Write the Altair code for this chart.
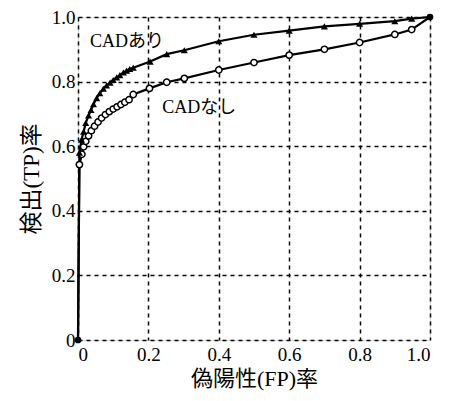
import altair as alt
import pandas as pd

# CADあり (with CAD) - filled triangles
x_with = [0.0, 0.004, 0.010, 0.016, 0.022, 0.030, 0.037, 0.044, 0.053, 0.062, 0.072,
          0.081, 0.091, 0.100, 0.110, 0.119, 0.129, 0.138, 0.147, 0.157,
          0.205, 0.252, 0.302, 0.40, 0.50, 0.60, 0.70, 0.80, 0.90, 0.948, 1.0]
y_with = [0.0, 0.58, 0.62, 0.645, 0.672, 0.695, 0.712, 0.730, 0.749, 0.764, 0.778,
          0.788, 0.797, 0.805, 0.813, 0.820, 0.828, 0.834, 0.839, 0.843,
          0.862, 0.885, 0.897, 0.925, 0.945, 0.958, 0.971, 0.979, 0.987, 0.995, 1.0]

# CADなし (without CAD) - open circles
x_without = [0.0, 0.004, 0.011, 0.016, 0.022, 0.030, 0.038, 0.047, 0.057, 0.067, 0.078,
             0.089, 0.100, 0.111, 0.122, 0.133, 0.145, 0.157,
             0.203, 0.252, 0.302, 0.40, 0.50, 0.60, 0.70, 0.80, 0.90, 0.948, 1.0]
y_without = [0.0, 0.543, 0.575, 0.598, 0.615, 0.632, 0.648, 0.662, 0.675, 0.687, 0.698,
             0.707, 0.715, 0.722, 0.729, 0.736, 0.744, 0.760,
             0.779, 0.798, 0.810, 0.836, 0.859, 0.882, 0.900, 0.921, 0.946, 0.961, 1.0]

tick_values = [0, 0.2, 0.4, 0.6, 0.8, 1.0]
labels_text = ["CADあり", "CADなし"]
labels_x = [0.034, 0.239]
labels_y = [0.923, 0.717]

SERIF = "'Liberation Serif', 'DejaVu Serif', serif"
SERIF_CJK = "'Liberation Serif', 'Noto Sans CJK JP', serif"

def make_df(xs, ys, name):
    n = len(xs)
    return pd.DataFrame({
        "x": xs, "y": ys, "series": name, "i": list(range(n)),
        "end": [k == 0 or k == n - 1 for k in range(n)],
    })

df_with = make_df(x_with, y_with, "with")
df_without = make_df(x_without, y_without, "without")
df_lab = pd.DataFrame({"t": labels_text, "x": labels_x, "y": labels_y})

label_expr = "datum.value == 0 ? '0' : format(datum.value, '.1f')"
xscale = alt.Scale(domain=[0, 1], nice=False)
yscale = alt.Scale(domain=[0, 1], nice=False)

xenc = alt.X("x:Q", scale=xscale, title="偽陽性(FP)率",
             axis=alt.Axis(values=tick_values, labelExpr=label_expr, grid=True,
                           gridDash=[4, 4], gridColor="black", gridWidth=1.5, gridOpacity=1,
                           domain=False, ticks=False, labelPadding=5, titlePadding=4,
                           labelFont=SERIF, labelFontSize=19, labelColor="black",
                           titleFont=SERIF_CJK, titleFontSize=22,
                           titleFontWeight="normal", titleColor="black"))
yenc = alt.Y("y:Q", scale=yscale, title="検出(TP)率",
             axis=alt.Axis(values=tick_values, labelExpr=label_expr, grid=True,
                           gridDash=[4, 4], gridColor="black", gridWidth=1.5, gridOpacity=1,
                           domain=False, ticks=False, labelPadding=3, titlePadding=8,
                           labelFont=SERIF, labelFontSize=19, labelColor="black",
                           titleFont=SERIF_CJK, titleFontSize=23,
                           titleFontWeight="normal", titleColor="black"))

line_with = alt.Chart(df_with).mark_line(color="black", strokeWidth=2.2).encode(
    x=xenc, y=yenc, order="i:Q")
line_without = alt.Chart(df_without).mark_line(color="black", strokeWidth=2.2).encode(
    x="x:Q", y="y:Q", order="i:Q")

tri = alt.Chart(df_with).transform_filter("!datum.end").mark_point(
    shape="triangle-up", filled=True, color="black", size=50, opacity=1).encode(
    x="x:Q", y="y:Q")
circ = alt.Chart(df_without).transform_filter("!datum.end").mark_point(
    shape="circle", filled=True, fill="white", stroke="black", strokeWidth=1.5,
    size=40, opacity=1).encode(x="x:Q", y="y:Q")
ends = alt.Chart(df_with).transform_filter("datum.end").mark_point(
    shape="circle", filled=True, color="black", size=45, opacity=1).encode(
    x="x:Q", y="y:Q")

text = alt.Chart(df_lab).mark_text(
    align="left", baseline="middle", font=SERIF_CJK,
    fontSize=18, color="black").encode(x="x:Q", y="y:Q", text="t:N")

chart = alt.layer(line_with, line_without, circ, tri, ends, text).properties(
    width=352, height=323,
    autosize=alt.AutoSizeParams(type="none"),
    padding={"left": 70, "top": 9, "right": 16, "bottom": 53},
).configure_view(stroke="black", strokeWidth=3.5).configure(background="white")

chart.save("out.html", embed_options={"renderer": "svg", "actions": False})
